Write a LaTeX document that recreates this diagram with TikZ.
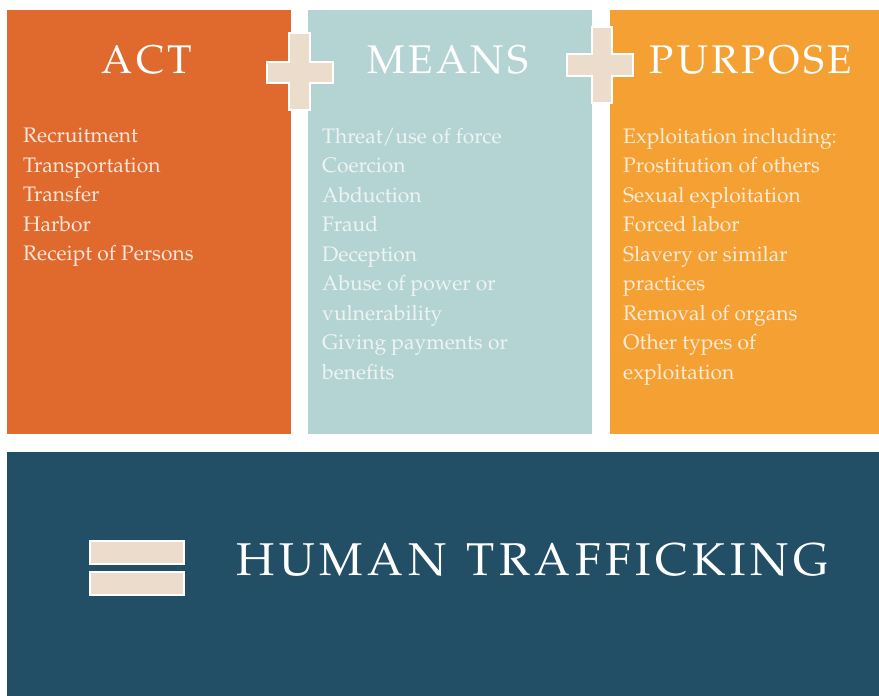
\documentclass[tikz,border=0pt]{standalone}
\usepackage[T1]{fontenc}
\usepackage{mathpazo}
\definecolor{actc}{HTML}{E0692E}
\definecolor{meansc}{HTML}{B4D4D3}
\definecolor{purpc}{HTML}{F5A033}
\definecolor{humc}{HTML}{224E66}
\definecolor{beige}{HTML}{EBDCCB}
\definecolor{acttxt}{HTML}{F9E6D8}
\definecolor{meanstxt}{HTML}{EEF4F3}
\definecolor{purptxt}{HTML}{FCEBD6}
\newcommand\tk{\kern3.3pt }
\newcommand\hk{\kern4.5pt }
\tikzset{
  title/.style={text=white, font=\fontsize{40}{40}\selectfont, inner sep=0pt, anchor=base},
  body/.style={font=\fontsize{21}{29.5}\selectfont, align=left, inner sep=0pt, anchor=north west},
  sign/.style={fill=beige, draw=white, line width=1.5pt, line join=miter},
}
\begin{document}
\begin{tikzpicture}[x=1pt,y=-1pt]
\useasboundingbox (0,0) rectangle (879,696);
\fill[white] (0,0) rectangle (879,696);
% column boxes
\fill[actc] (7,10) rectangle (291,434);
\fill[meansc] (308,10) rectangle (592,434);
\fill[purpc] (610,10) rectangle (879,434);
\fill[humc] (7,452) rectangle (879,696);
% plus signs
\draw[sign] (289,33) -- (310,33) -- (310,62) -- (333,62) -- (333,83) -- (310,83) -- (310,110) -- (289,110) -- (289,83) -- (267,83) -- (267,62) -- (289,62) -- cycle;
\draw[sign] (592,27) -- (612,27) -- (612,54) -- (633,54) -- (633,76) -- (612,76) -- (612,103) -- (592,103) -- (592,76) -- (567,76) -- (567,54) -- (592,54) -- cycle;
% equals sign
\draw[sign] (90,541) rectangle (184,564);
\draw[sign] (90,572) rectangle (184,595);
% titles
\node[title] (act) at (147,73) {A\tk C\tk T};
\node[title] (means) at (448,73) {M\tk E\tk A\tk N\tk S};
\node[title] (purpose) at (751,73) {P\tk U\tk R\tk P\tk O\tk S\tk E};
\node[text=white, font=\fontsize{46}{46}\selectfont, inner sep=0pt, anchor=base] (ht) at (532.5,575) {H\hk U\hk M\hk A\hk N\hk\ \hk T\hk R\hk A\hk F\hk F\hk I\hk C\hk K\hk I\hk N\hk G};
% lists
\node[body, text=acttxt] (actlist) at (23,128) {Recruitment\\Transportation\\Transfer\\Harbor\\Receipt of Persons};
\node[body, text=meanstxt] (meanslist) at (322,128) {Threat/use of force\\Coercion\\Abduction\\Fraud\\Deception\\Abuse of power or\\vulnerability\\Giving payments or\\benefits};
\node[body, text=purptxt] (purplist) at (623,128) {Exploitation including:\\Prostitution of others\\Sexual exploitation\\Forced labor\\Slavery or similar\\practices\\Removal of organs\\Other types of\\exploitation};
\end{tikzpicture}
\end{document}
